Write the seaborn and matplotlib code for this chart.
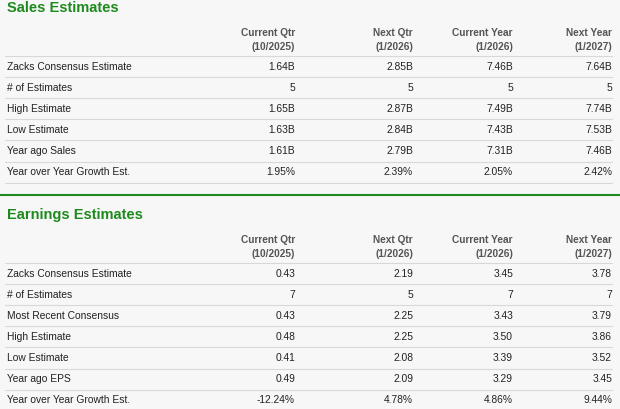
import matplotlib.pyplot as plt
import seaborn as sns

sns.set_theme(style="white")

headers = ["Current Qtr\n(10/2025)", "Next Qtr\n(1/2026)", "Current Year\n(1/2026)", "Next Year\n(1/2027)"]

sales_labels = ["Zacks Consensus Estimate", "# of Estimates", "High Estimate", "Low Estimate",
                "Year ago Sales", "Year over Year Growth Est."]
sales_values = [
    ["1.64B", "2.85B", "7.46B", "7.64B"],
    ["5", "5", "5", "5"],
    ["1.65B", "2.87B", "7.49B", "7.74B"],
    ["1.63B", "2.84B", "7.43B", "7.53B"],
    ["1.61B", "2.79B", "7.31B", "7.46B"],
    ["1.95%", "2.39%", "2.05%", "2.42%"],
]

eps_labels = ["Zacks Consensus Estimate", "# of Estimates", "Most Recent Consensus", "High Estimate",
              "Low Estimate", "Year ago EPS", "Year over Year Growth Est."]
eps_values = [
    ["0.43", "2.19", "3.45", "3.78"],
    ["7", "5", "7", "7"],
    ["0.43", "2.25", "3.43", "3.79"],
    ["0.48", "2.25", "3.50", "3.86"],
    ["0.41", "2.08", "3.39", "3.52"],
    ["0.49", "2.09", "3.29", "3.45"],
    ["-12.24%", "4.78%", "4.86%", "9.44%"],
]

col_x = [295, 413, 513, 612]
green = "#1e8a1e"
bg = "#f7f7f7"

fig = plt.figure(figsize=(6.2, 4.09), dpi=100, facecolor=bg)
ax = fig.add_axes([0, 0, 1, 1])
ax.set_facecolor(bg)
ax.set_xlim(0, 620)
ax.set_ylim(409, 0)
ax.axis("off")


def section(title, labels, values, top):
    ax.text(7, top, title, color=green, fontsize=10.5, fontweight="bold",
            va="center", ha="left", family="Liberation Sans")
    for x, h in zip(col_x, headers):
        ax.text(x, top + 32, h, color="#555555", fontsize=7.3, fontweight="bold",
                ha="right", va="center", linespacing=1.45, family="Liberation Sans")
    y0 = top + 48
    step = 21.1
    ax.plot([5, 612], [y0, y0], color="#d8d8d8", lw=0.8)
    for i, (lab, vals) in enumerate(zip(labels, values)):
        yc = y0 + step * (i + 0.5)
        ax.text(7, yc, lab, fontsize=7.4, color="#222222", va="center", ha="left",
                family="Liberation Sans")
        for x, v in zip(col_x, vals):
            ax.text(x, yc, v, fontsize=7.4, color="#222222", va="center", ha="right",
                    family="Liberation Sans")
        ax.plot([5, 612], [y0 + step * (i + 1)] * 2, color="#d8d8d8", lw=0.8)


section("Sales Estimates", sales_labels, sales_values, 8)
ax.plot([0, 620], [195, 195], color=green, lw=1.5)
section("Earnings Estimates", eps_labels, eps_values, 215)

fig.savefig("out.png", dpi=100, facecolor=bg)
